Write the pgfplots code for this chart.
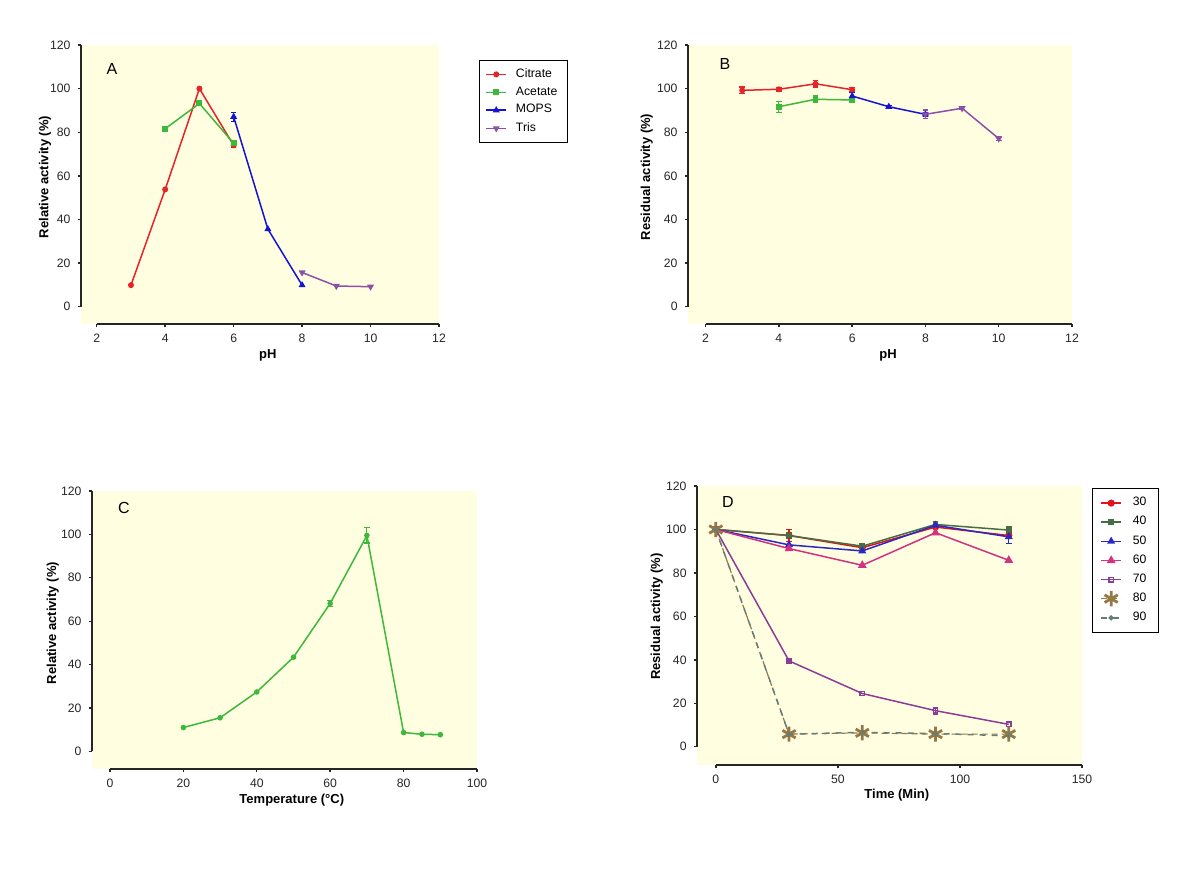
\documentclass[border=0pt]{standalone}
\usepackage{pgfplots}
\pgfplotsset{compat=1.18}
\usepackage{fontspec}
\setmainfont{Liberation Sans}
\definecolor{bgy}{RGB}{255,254,224}
\definecolor{cred}{RGB}{230,35,40}
\definecolor{cgreen}{RGB}{60,185,60}
\definecolor{cblue}{RGB}{20,20,215}
\definecolor{cpurple}{RGB}{140,80,170}
\definecolor{dred}{RGB}{225,20,25}
\definecolor{dgreen}{RGB}{70,110,70}
\definecolor{dblue}{RGB}{40,40,200}
\definecolor{dpink}{RGB}{210,50,130}
\definecolor{dpurple}{RGB}{140,60,150}
\definecolor{dbrown}{RGB}{150,120,70}
\definecolor{dgray}{RGB}{100,125,120}
\tikzset{lettr/.style={font=\fontsize{8}{9}\selectfont, anchor=center}}
\pgfplotsset{
  panel/.style={
    scale only axis,
    axis background/.style={fill=bgy},
    axis line style={draw=none},
    tick align=outside,
    tick pos=left,
    major tick length=1.7pt,
    tick style={black!85, line width=0.7pt},
    ticklabel style={font=\fontsize{6.1}{7}\selectfont, text=black!85},
    /pgf/number format/assume math mode=true,
    label style={font=\bfseries\fontsize{6.5}{7.5}\selectfont},
    clip=false,
    every axis plot/.append style={line width=0.75pt},
    error bars/error bar style={line width=0.6pt, solid},
    error bars/error mark options={rotate=90, mark size=1.4pt, line width=0.6pt, solid},
    legend style={draw=black, fill=white, font=\fontsize{6.1}{7}\selectfont,
      anchor=north west, row sep=-0.8pt, column sep=2.5pt, inner xsep=3pt, inner ysep=2pt},
    legend cell align=left,
    legend image code/.code={\draw[mark repeat=2,mark phase=2] plot coordinates {(0pt,0pt) (5pt,0pt) (10pt,0pt)};},
  },
}
\begin{document}
\begin{tikzpicture}
\useasboundingbox (0,0) rectangle (600pt,443.5pt);
% ---------------- Panel A
\begin{axis}[panel, at={(40.5pt,281.5pt)}, anchor=south west,
  width=179pt, height=139.5pt,
  xmin=1.54, xmax=12, ymin=-7.9, ymax=120,
  xtick={2,4,...,12}, ytick={0,20,...,120},
  xlabel={pH}, ylabel={Relative activity (\%)},
  xlabel style={at={(axis description cs:0.522,-0.111)}, anchor=center},
  ylabel style={at={(axis description cs:-0.1006,0.527)}, anchor=center},
  legend style={at={(axis description cs:1.112,0.946)}},
]
\draw[black!85, line width=0.8pt] (axis cs:1.54,0) -- (axis cs:1.54,120);
\draw[black!85, line width=0.8pt] (axis cs:2,-7.9) -- (axis cs:12,-7.9);
\addplot[cred, mark=*, mark size=1.1pt, error bars/.cd, y dir=both, y explicit]
  coordinates {(3,9.9) (4,53.8) (5,100) (6,74.0) +- (0,0.8)};
\addlegendentry{Citrate}
\addplot[cgreen, mark=square*, mark size=1.1pt, error bars/.cd, y dir=both, y explicit]
  coordinates {(4,81.6) (5,93.2) +- (0,1.0) (6,74.9)};
\addlegendentry{Acetate}
\addplot[cblue, mark=triangle*, mark size=1.3pt, error bars/.cd, y dir=both, y explicit]
  coordinates {(6,87.1) +- (0,2.0) (7,35.6) (8,9.9)};
\addlegendentry{MOPS}
\addplot[cpurple, mark=triangle*, mark size=1.3pt, mark options={rotate=180}, error bars/.cd, y dir=both, y explicit]
  coordinates {(8,15.7) (9,9.5) (10,9.2)};
\addlegendentry{Tris}
\node[lettr] at (rel axis cs:0.0866,0.914) {A};
\end{axis}
% ---------------- Panel B
\begin{axis}[panel, at={(344pt,281.5pt)}, anchor=south west,
  width=192pt, height=139.5pt,
  xmin=1.52, xmax=12, ymin=-7.9, ymax=120,
  xtick={2,4,...,12}, ytick={0,20,...,120},
  xlabel={pH}, ylabel={Residual activity (\%)},
  xlabel style={at={(axis description cs:0.521,-0.111)}, anchor=center},
  ylabel style={at={(axis description cs:-0.1076,0.527)}, anchor=center},
]
\draw[black!85, line width=0.8pt] (axis cs:1.52,0) -- (axis cs:1.52,120);
\draw[black!85, line width=0.8pt] (axis cs:2,-7.9) -- (axis cs:12,-7.9);
\addplot[cred, mark=*, mark size=1.1pt, error bars/.cd, y dir=both, y explicit]
  coordinates {(3,99.2) +- (0,1.5) (4,99.7) +- (0,0.8) (5,102.2) +- (0,1.5) (6,99.5) +- (0,1.0)};
\addplot[cgreen, mark=square*, mark size=1.1pt, error bars/.cd, y dir=both, y explicit]
  coordinates {(4,91.7) +- (0,2.5) (5,95.1) +- (0,1.5) (6,94.8) +- (0,0.8)};
\addplot[cblue, mark=triangle*, mark size=1.3pt, error bars/.cd, y dir=both, y explicit]
  coordinates {(6,96.6) +- (0,1.5) (7,91.7) +- (0,0.5) (8,88.2) +- (0,1.0)};
\addplot[cpurple, mark=triangle*, mark size=1.3pt, mark options={rotate=180}, error bars/.cd, y dir=both, y explicit]
  coordinates {(8,88.2) +- (0,2.0) (9,91.0) +- (0,0.5) (10,77.1) +- (0,1.0)};
\node[lettr] at (rel axis cs:0.096,0.932) {B};
\end{axis}
% ---------------- Panel C
\begin{axis}[panel, at={(46pt,59pt)}, anchor=south west,
  width=192.5pt, height=139pt,
  xmin=-4.9, xmax=100, ymin=-8.1, ymax=120,
  xtick={0,20,...,100}, ytick={0,20,...,120},
  xlabel={Temperature (°C)}, ylabel={Relative activity (\%)},
  xlabel style={at={(axis description cs:0.519,-0.1115)}, anchor=center},
  ylabel style={at={(axis description cs:-0.102,0.525)}, anchor=center},
]
\draw[black!85, line width=0.8pt] (axis cs:-4.9,0) -- (axis cs:-4.9,120);
\draw[black!85, line width=0.8pt] (axis cs:0,-8.1) -- (axis cs:100,-8.1);
\addplot[cgreen, mark=*, mark size=1.0pt, error bars/.cd, y dir=both, y explicit]
  coordinates {(20,11.0) (30,15.5) (40,27.4) (50,43.4) (60,68.2) +- (0,1.5) (70,99.5) +- (0,3.5) (80,8.7) (85,7.9) (90,7.7)};
\node[lettr] at (rel axis cs:0.083,0.939) {C};
\end{axis}
% ---------------- Panel D
\begin{axis}[panel, at={(348.5pt,61pt)}, anchor=south west,
  width=192.5pt, height=139.5pt,
  xmin=-7.7, xmax=150, ymin=-8.4, ymax=120,
  xtick={0,50,100,150}, ytick={0,20,...,120},
  xlabel={Time (Min)}, ylabel={Residual activity (\%)},
  xlabel style={at={(axis description cs:0.519,-0.1075)}, anchor=center},
  ylabel style={at={(axis description cs:-0.1047,0.5315)}, anchor=center},
  legend style={at={(axis description cs:1.026,0.993)}, row sep=-0.2pt, column sep=3.5pt, inner xsep=4pt, inner ysep=2.5pt},
]
\draw[black!85, line width=0.8pt] (axis cs:-7.7,0) -- (axis cs:-7.7,120);
\draw[black!85, line width=0.8pt] (axis cs:0,-8.4) -- (axis cs:150,-8.4);
\addplot[dred, mark=*, mark size=1.4pt, error bars/.cd, y dir=both, y explicit]
  coordinates {(0,100) (30,97.2) +- (0,2.8) (60,91.6) (90,101.1) (120,97.2) +- (0,1.5)};
\addlegendentry{30}
\addplot[dgreen, mark=square*, mark size=1.1pt, error bars/.cd, y dir=both, y explicit]
  coordinates {(0,100) (30,97.2) +- (0,1.5) (60,92.3) (90,102.3) (120,99.7) +- (0,1.5)};
\addlegendentry{40}
\addplot[dblue, mark=triangle*, mark size=1.6pt, error bars/.cd, y dir=both, y explicit]
  coordinates {(0,100) (30,92.9) (60,90.1) (90,101.9) +- (0,1.5) (120,96.6) +- (0,3.0)};
\addlegendentry{50}
\addplot[dpink, mark=triangle*, mark size=1.8pt, error bars/.cd, y dir=both, y explicit]
  coordinates {(0,100) (30,91.2) (60,83.5) (90,98.5) (120,85.8)};
\addlegendentry{60}
\addplot[dpurple, mark=square, mark size=1.1pt, error bars/.cd, y dir=both, y explicit]
  coordinates {(0,100) (30,39.5) +- (0,1.0) (60,24.5) (90,16.6) +- (0,1.5) (120,10.3)};
\addlegendentry{70}
\addplot[dbrown, densely dashed, line width=0.6pt, mark=asterisk, mark size=3.8pt, mark options={solid, line width=1.4pt}]
  coordinates {(0,100) (30,5.8) (60,6.4) (90,5.8) (120,5.8)};
\addlegendentry{80}
\addplot[dgray, dashed, mark=*, mark size=0.9pt, mark options={solid}]
  coordinates {(0,100) (30,5.8) (60,6.6) (90,6.1) (120,5.0)};
\addlegendentry{90}
\node[lettr] at (rel axis cs:0.0805,0.943) {D};
\end{axis}
\end{tikzpicture}
\end{document}
